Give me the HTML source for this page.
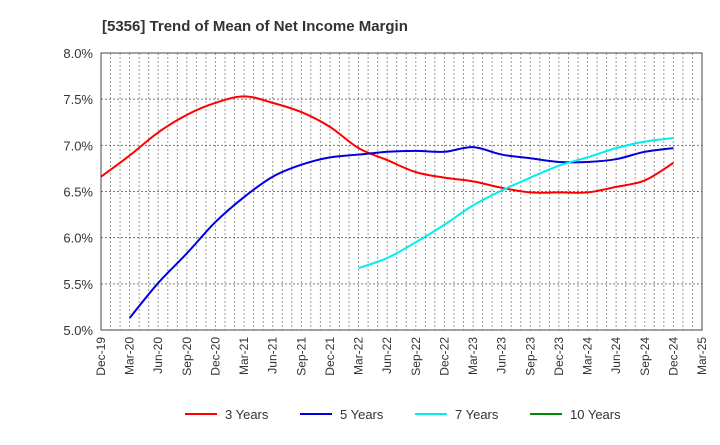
<!DOCTYPE html>
<html><head><meta charset="utf-8"><style>
body{margin:0;background:#fff;font-family:"Liberation Sans",sans-serif}
</style></head><body>
<svg id="chart" width="720" height="440" xmlns="http://www.w3.org/2000/svg">
<text x="102" y="31" font-size="15" font-weight="bold" fill="#333">[5356]  Trend of Mean of Net Income Margin</text>
<g id="grid"></g><g id="series"></g><g id="axes"></g><g id="legend"></g>
</svg>
<script>
const xLabels=["Dec-19","Mar-20","Jun-20","Sep-20","Dec-20","Mar-21","Jun-21","Sep-21","Dec-21","Mar-22","Jun-22","Sep-22","Dec-22","Mar-23","Jun-23","Sep-23","Dec-23","Mar-24","Jun-24","Sep-24","Dec-24","Mar-25"];
const yTicks=[5.0,5.5,6.0,6.5,7.0,7.5,8.0];
const s3Start=0;
const s3=[6.66,6.89,7.14,7.33,7.46,7.53,7.46,7.36,7.2,6.97,6.84,6.71,6.65,6.61,6.54,6.49,6.49,6.49,6.55,6.62,6.81];
const s5Start=1;
const s5=[5.13,5.51,5.83,6.17,6.44,6.66,6.79,6.87,6.9,6.93,6.94,6.93,6.98,6.9,6.86,6.82,6.82,6.85,6.93,6.97];
const s7Start=9;
const s7=[5.67,5.78,5.95,6.14,6.35,6.51,6.65,6.78,6.87,6.97,7.04,7.08];
const s10Start=0;
const s10=[];
const seriesNames=["3 Years","5 Years","7 Years","10 Years"];
const seriesColors=["#ff0000","#0000dd","#00eeee","#008800"];

const L=101,R=702,T=53,B=330,NS="http://www.w3.org/2000/svg";
const nMonths=(xLabels.length-1)*3;
function xq(q){return L+(q*3)*(R-L)/nMonths;}
function xm(m){return L+m*(R-L)/nMonths;}
function y(v){return B-(v-5)*(B-T)/3;}
function mk(tag,attrs,parent){const e=document.createElementNS(NS,tag);for(const k in attrs)e.setAttribute(k,attrs[k]);parent.appendChild(e);return e;}
const grid=document.getElementById('grid'),axes=document.getElementById('axes'),ser=document.getElementById('series'),leg=document.getElementById('legend');
for(let m=1;m<nMonths;m++){
 const l=mk('line',{x1:xm(m),x2:xm(m),y1:T,y2:B,stroke:'#999','stroke-dasharray':'2,2','stroke-width':1},grid);
 
 
}
yTicks.forEach(v=>{
 const l=mk('line',{x1:L,x2:R,y1:y(v),y2:y(v),stroke:'#777','stroke-dasharray':'2,2','stroke-width':1},grid);
 
 
 const t=mk('text',{x:L-8,y:y(v)+5,'text-anchor':'end','font-size':13,fill:'#333'},axes);
 t.textContent=v.toFixed(1)+'%';
 
 
});
const fr=mk('rect',{x:L,y:T,width:R-L,height:B-T,fill:'none',stroke:'#444','stroke-width':1},axes);


xLabels.forEach((s,i)=>{
 const x=xq(i);
 const t=mk('text',{x:0,y:0,transform:`translate(${x+4},${B+7}) rotate(-90)`,'text-anchor':'end','font-size':12,fill:'#333'},axes);
 t.textContent=s;
 
 
});
function path(pts){
 if(pts.length<2)return '';
 let d=`M${pts[0][0]},${pts[0][1]}`;
 for(let i=0;i<pts.length-1;i++){
  const p0=pts[i-1]||pts[i],p1=pts[i],p2=pts[i+1],p3=pts[i+2]||p2;
  const c1=[p1[0]+(p2[0]-p0[0])/6,p1[1]+(p2[1]-p0[1])/6],c2=[p2[0]-(p3[0]-p1[0])/6,p2[1]-(p3[1]-p1[1])/6];
  d+=`C${c1[0]},${c1[1]} ${c2[0]},${c2[1]} ${p2[0]},${p2[1]}`;
 }
 return d;
}
[[s3,s3Start],[s5,s5Start],[s7,s7Start],[s10,s10Start]].forEach(([arr,st],k)=>{
 const pts=arr.map((v,i)=>[xq(st+i),y(v)]);
 if(pts.length>1){
  const p=mk('path',{d:path(pts),fill:'none',stroke:seriesColors[k],'stroke-width':2},ser);
  
  
 }
});
const lx=[185,300,415,530];
seriesNames.forEach((n,k)=>{
 const g=mk('g',{},leg);
 
 
 mk('line',{x1:lx[k],x2:lx[k]+32,y1:414,y2:414,stroke:seriesColors[k],'stroke-width':2},g);
 const t=mk('text',{x:lx[k]+40,y:419,'font-size':13,fill:'#333'},g);
 t.textContent=n;
});
</script>
</body></html>
